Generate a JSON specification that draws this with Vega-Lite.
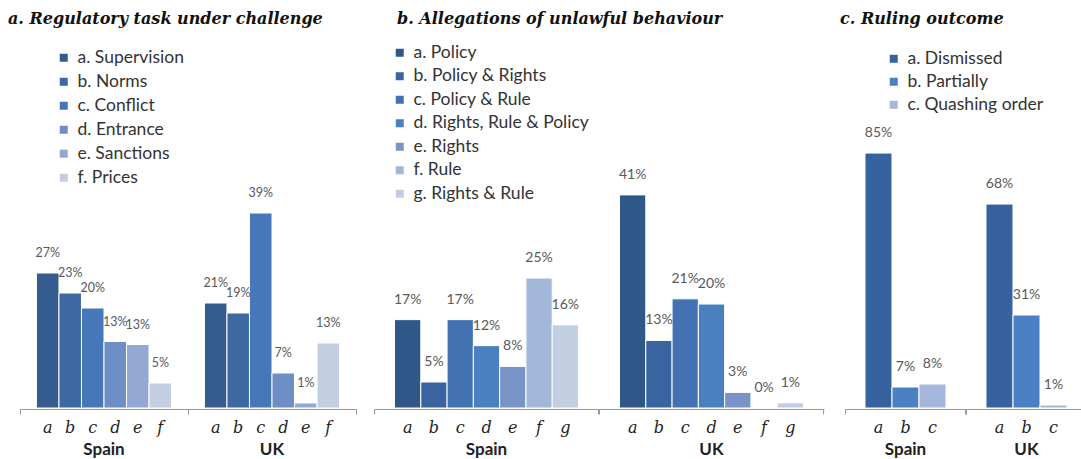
{
  "$schema": "https://vega.github.io/schema/vega-lite/v6.json",
  "padding": {"left": 8, "top": 11, "right": 0, "bottom": 0},
  "background": "white",
  "config": {
    "view": {"stroke": null},
    "font": "Lato",
    "legend": {"symbolType": "square", "symbolSize": 64, "symbolStrokeWidth": 0, "labelFont": "Lato", "labelFontSize": 17.5, "labelColor": "#333333", "labelOffset": 5, "labelLimit": 0, "rowPadding": 5, "padding": 0},
    "axisX": {"title": null, "labelAngle": 0, "ticks": false, "domainColor": "#9a9a9a", "domainWidth": 1, "labelFont": "DejaVu Serif", "labelFontStyle": "italic", "labelFontSize": 16, "labelColor": "#222222", "labelPadding": 10, "grid": false},
    "header": {"title": null, "labelOrient": "bottom", "labelFont": "Lato", "labelFontWeight": "bold", "labelFontSize": 17, "labelColor": "#222222", "labelPadding": 7},
    "title": {"anchor": "start", "frame": "group", "font": "DejaVu Serif", "fontStyle": "italic", "fontWeight": "bold", "fontSize": 16, "color": "#111111", "offset": 13}
  },
  "spacing": 16,
  "resolve": {"scale": {"color": "independent", "x": "independent", "y": "independent"}, "legend": {"color": "independent"}},
  "hconcat": [
    {
      "title": {"text": "a. Regulatory task under challenge", "dx": -12},
      "data": {"values": [
        {"country": "Spain", "cat": "a", "name": "a. Supervision", "v": 0.27},
        {"country": "Spain", "cat": "b", "name": "b. Norms", "v": 0.23},
        {"country": "Spain", "cat": "c", "name": "c. Conflict", "v": 0.20},
        {"country": "Spain", "cat": "d", "name": "d. Entrance", "v": 0.133},
        {"country": "Spain", "cat": "e", "name": "e. Sanctions", "v": 0.127},
        {"country": "Spain", "cat": "f", "name": "f. Prices", "v": 0.05},
        {"country": "UK", "cat": "a", "name": "a. Supervision", "v": 0.21},
        {"country": "UK", "cat": "b", "name": "b. Norms", "v": 0.19},
        {"country": "UK", "cat": "c", "name": "c. Conflict", "v": 0.39},
        {"country": "UK", "cat": "d", "name": "d. Entrance", "v": 0.07},
        {"country": "UK", "cat": "e", "name": "e. Sanctions", "v": 0.01},
        {"country": "UK", "cat": "f", "name": "f. Prices", "v": 0.13}
      ]},
      "facet": {"column": {"field": "country", "type": "nominal", "sort": ["Spain", "UK"]}},
      "spacing": 0,
      "spec": {
        "width": 168,
        "height": 368,
        "resolve": {"axis": {"x": "independent"}},
        "encoding": {
          "y": {"field": "v", "type": "quantitative", "scale": {"domain": [0, 0.736]}, "axis": null}
        },
        "layer": [
          {
            "mark": {"type": "bar", "stroke": "white", "strokeWidth": 1},
            "encoding": {
              "x": {"field": "cat", "type": "nominal", "sort": ["a", "b", "c", "d", "e", "f"], "scale": {"paddingInner": 0, "paddingOuter": 0.73}, "axis": {"orient": "bottom"}},
              "color": {"field": "name", "type": "nominal",
                "scale": {"domain": ["a. Supervision", "b. Norms", "c. Conflict", "d. Entrance", "e. Sanctions", "f. Prices"],
                          "range": ["#345c8f", "#3d68a2", "#4677b8", "#6e8fc6", "#93a9d3", "#c3cee3"]},
                "legend": {"orient": "none", "legendX": 35, "legendY": 9, "title": null, "rowPadding": 5}}
            }
          },
          {
            "mark": {"type": "text", "baseline": "middle", "dy": -20, "font": "Lato", "fontSize": 12.5, "color": "#595959"},
            "encoding": {
              "x": {"field": "cat", "type": "nominal", "sort": ["a", "b", "c", "d", "e", "f"], "axis": {"orient": "bottom", "values": ["a"], "bandPosition": -0.73, "ticks": true, "tickSize": 5, "tickColor": "#9a9a9a", "labels": false, "domain": false}},
              "text": {"field": "v", "type": "quantitative", "format": ".0%"}
            }
          },
          {
            "mark": {"type": "bar", "opacity": 0},
            "encoding": {
              "x": {"field": "cat", "type": "nominal", "sort": ["a", "b", "c", "d", "e", "f"], "axis": {"orient": "bottom", "values": ["f"], "bandPosition": 1.73, "ticks": true, "tickSize": 5, "tickColor": "#9a9a9a", "labels": false, "domain": false}}
            }
          }
        ]
      }
    },
    {
      "title": {"text": "b. Allegations of unlawful behaviour", "dx": 23},
      "data": {"values": [
        {"country": "Spain", "cat": "a", "name": "a. Policy", "v": 0.17},
        {"country": "Spain", "cat": "b", "name": "b. Policy & Rights", "v": 0.05},
        {"country": "Spain", "cat": "c", "name": "c. Policy & Rule", "v": 0.17},
        {"country": "Spain", "cat": "d", "name": "d. Rights, Rule & Policy", "v": 0.12},
        {"country": "Spain", "cat": "e", "name": "e. Rights", "v": 0.08},
        {"country": "Spain", "cat": "f", "name": "f. Rule", "v": 0.25},
        {"country": "Spain", "cat": "g", "name": "g. Rights & Rule", "v": 0.16},
        {"country": "UK", "cat": "a", "name": "a. Policy", "v": 0.41},
        {"country": "UK", "cat": "b", "name": "b. Policy & Rights", "v": 0.13},
        {"country": "UK", "cat": "c", "name": "c. Policy & Rule", "v": 0.21},
        {"country": "UK", "cat": "d", "name": "d. Rights, Rule & Policy", "v": 0.20},
        {"country": "UK", "cat": "e", "name": "e. Rights", "v": 0.03},
        {"country": "UK", "cat": "f", "name": "f. Rule", "v": 0.0},
        {"country": "UK", "cat": "g", "name": "g. Rights & Rule", "v": 0.01}
      ]},
      "facet": {"column": {"field": "country", "type": "nominal", "sort": ["Spain", "UK"]}},
      "spacing": 0,
      "spec": {
        "width": 225,
        "height": 368,
        "resolve": {"axis": {"x": "independent"}},
        "encoding": {
          "y": {"field": "v", "type": "quantitative", "scale": {"domain": [0, 0.708]}, "axis": null}
        },
        "layer": [
          {
            "mark": {"type": "bar", "stroke": "white", "strokeWidth": 1},
            "encoding": {
              "x": {"field": "cat", "type": "nominal", "sort": ["a", "b", "c", "d", "e", "f", "g"], "scale": {"paddingInner": 0, "paddingOuter": 0.78}, "axis": {"orient": "bottom"}},
              "color": {"field": "name", "type": "nominal",
                "scale": {"domain": ["a. Policy", "b. Policy & Rights", "c. Policy & Rule", "d. Rights, Rule & Policy", "e. Rights", "f. Rule", "g. Rights & Rule"],
                          "range": ["#2f5788", "#3a64a0", "#4272b2", "#4a7fc0", "#7894c6", "#a3b7d9", "#c2cfe2"]},
                "legend": {"orient": "none", "legendX": 17, "legendY": 4, "title": null, "rowPadding": 4.5}}
            }
          },
          {
            "mark": {"type": "text", "baseline": "middle", "dy": -20, "font": "Lato", "fontSize": 14, "color": "#595959"},
            "encoding": {
              "x": {"field": "cat", "type": "nominal", "sort": ["a", "b", "c", "d", "e", "f", "g"], "axis": {"orient": "bottom", "values": ["a"], "bandPosition": -0.78, "ticks": true, "tickSize": 5, "tickColor": "#9a9a9a", "labels": false, "domain": false}},
              "text": {"field": "v", "type": "quantitative", "format": ".0%"}
            }
          },
          {
            "mark": {"type": "bar", "opacity": 0},
            "encoding": {
              "x": {"field": "cat", "type": "nominal", "sort": ["a", "b", "c", "d", "e", "f", "g"], "axis": {"orient": "bottom", "values": ["g"], "bandPosition": 1.78, "ticks": true, "tickSize": 5, "tickColor": "#9a9a9a", "labels": false, "domain": false}}
            }
          }
        ]
      }
    },
    {
      "title": {"text": "c. Ruling outcome", "dx": -5},
      "data": {"values": [
        {"country": "Spain", "cat": "a", "name": "a. Dismissed", "v": 0.85},
        {"country": "Spain", "cat": "b", "name": "b. Partially", "v": 0.07},
        {"country": "Spain", "cat": "c", "name": "c. Quashing order", "v": 0.08},
        {"country": "UK", "cat": "a", "name": "a. Dismissed", "v": 0.68},
        {"country": "UK", "cat": "b", "name": "b. Partially", "v": 0.31},
        {"country": "UK", "cat": "c", "name": "c. Quashing order", "v": 0.01}
      ]},
      "facet": {"column": {"field": "country", "type": "nominal", "sort": ["Spain", "UK"]}},
      "spacing": 0,
      "spec": {
        "width": 121,
        "height": 368,
        "resolve": {"axis": {"x": "independent"}},
        "encoding": {
          "y": {"field": "v", "type": "quantitative", "scale": {"domain": [0, 1.227]}, "axis": null}
        },
        "layer": [
          {
            "mark": {"type": "bar", "stroke": "white", "strokeWidth": 1},
            "encoding": {
              "x": {"field": "cat", "type": "nominal", "sort": ["a", "b", "c"], "scale": {"paddingInner": 0, "paddingOuter": 0.74}, "axis": {"orient": "bottom"}},
              "color": {"field": "name", "type": "nominal",
                "scale": {"domain": ["a. Dismissed", "b. Partially", "c. Quashing order"],
                          "range": ["#3662a0", "#4c80c4", "#a5b8dc"]},
                "legend": {"orient": "none", "legendX": 40, "legendY": 10, "title": null, "rowPadding": 4}}
            }
          },
          {
            "mark": {"type": "text", "baseline": "middle", "dy": -20, "font": "Lato", "fontSize": 14, "color": "#595959"},
            "encoding": {
              "x": {"field": "cat", "type": "nominal", "sort": ["a", "b", "c"], "axis": {"orient": "bottom", "values": ["a"], "bandPosition": -0.74, "ticks": true, "tickSize": 5, "tickColor": "#9a9a9a", "labels": false, "domain": false}},
              "text": {"field": "v", "type": "quantitative", "format": ".0%"}
            }
          },
          {
            "mark": {"type": "bar", "opacity": 0},
            "encoding": {
              "x": {"field": "cat", "type": "nominal", "sort": ["a", "b", "c"], "axis": {"orient": "bottom", "values": ["c"], "bandPosition": 1.74, "ticks": true, "tickSize": 5, "tickColor": "#9a9a9a", "labels": false, "domain": false}}
            }
          }
        ]
      }
    }
  ]
}
